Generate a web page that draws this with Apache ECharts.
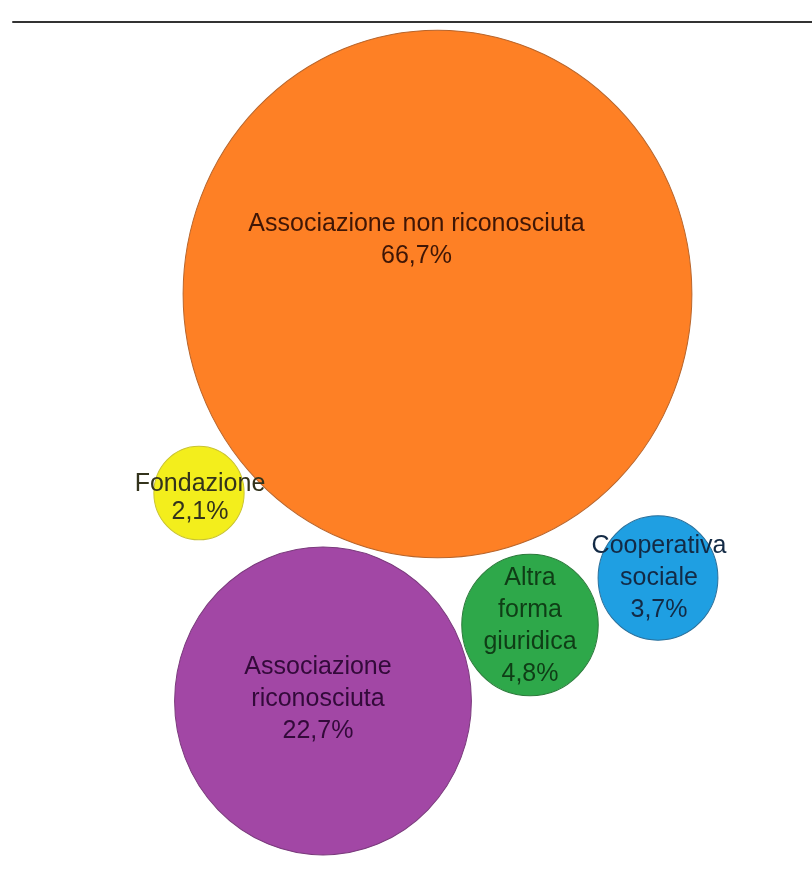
<!DOCTYPE html>
<html>
<head>
<meta charset="utf-8">
<title>Forma giuridica</title>
<script src="https://cdn.jsdelivr.net/npm/echarts@6/dist/echarts.min.js"></script>
<style>
  html, body { margin: 0; padding: 0; background: #ffffff; }
  #chart { width: 812px; height: 875px; }
</style>
</head>
<body>
<div id="chart"></div>
<script>
// Legal form of the organisations (share, %)
const categories = [
  'Associazione non riconosciuta',
  'Fondazione',
  'Associazione\nriconosciuta',
  'Altra\nforma\ngiuridica',
  'Cooperativa\nsociale'
];
const shares = [66.7, 2.1, 22.7, 4.8, 3.7];

// Bubble layout (centre of each bubble, in plot units) and styling
const layoutX = [424.5, 186, 310, 517, 645];
const layoutY = [272, 471, 679, 603, 556];
const fillColors = ['#fe8025', '#f3ee1c', '#a247a5', '#2ea84a', '#1f9fe2'];
const borderColors = ['#b8642a', '#c9c330', '#7a3a7c', '#2a7a3a', '#2a6f9a'];
const textColors = ['#3f1606', '#33331c', '#330a3a', '#0f3d16', '#132a45'];
const labelOffsets = [[-21, -54], [1, 5], [-5, -2], [0, 1], [1, 0]];

const PLOT_W = 799, PLOT_H = 853;
const SIZE_K = 62.3;      // diameter per sqrt(percentage point)
const STRETCH_Y = 1.037;  // bubbles are slightly taller than wide

const fmt = v => v.toFixed(1).replace('.', ',') + '%';

const seriesData = categories.map((name, i) => ({
  name: name,
  value: [layoutX[i], layoutY[i], shares[i]],
  itemStyle: {
    color: fillColors[i],
    borderColor: borderColors[i],
    borderWidth: 1,
    opacity: 1
  },
  label: {
    color: textColors[i],
    offset: labelOffsets[i],
    lineHeight: i === 1 ? 28 : 32
  }
}));

const chart = echarts.init(document.getElementById('chart'), null, { renderer: 'canvas' });
chart.setOption({
  animation: false,
  backgroundColor: '#ffffff',
  grid: { left: 13, right: 0, top: 22, bottom: 0 },
  xAxis: {
    type: 'value', min: 0, max: PLOT_W, position: 'top',
    axisLine: { show: true, lineStyle: { color: '#333333', width: 2 } },
    axisTick: { show: false }, axisLabel: { show: false }, splitLine: { show: false }
  },
  yAxis: {
    type: 'value', min: 0, max: PLOT_H, inverse: true,
    axisLine: { show: false }, axisTick: { show: false },
    axisLabel: { show: false }, splitLine: { show: false }
  },
  series: [{
    type: 'scatter',
    data: seriesData,
    symbol: 'circle',
    symbolSize: function (val) {
      const d = SIZE_K * Math.sqrt(val[2]);
      return [d, d * STRETCH_Y];
    },
    label: {
      show: true,
      position: 'inside',
      fontFamily: '"Liberation Sans", Arial, sans-serif',
      fontSize: 25,
      align: 'center',
      formatter: p => p.name + '\n' + fmt(p.value[2])
    },
    emphasis: { disabled: true }
  }]
});
</script>
</body>
</html>
